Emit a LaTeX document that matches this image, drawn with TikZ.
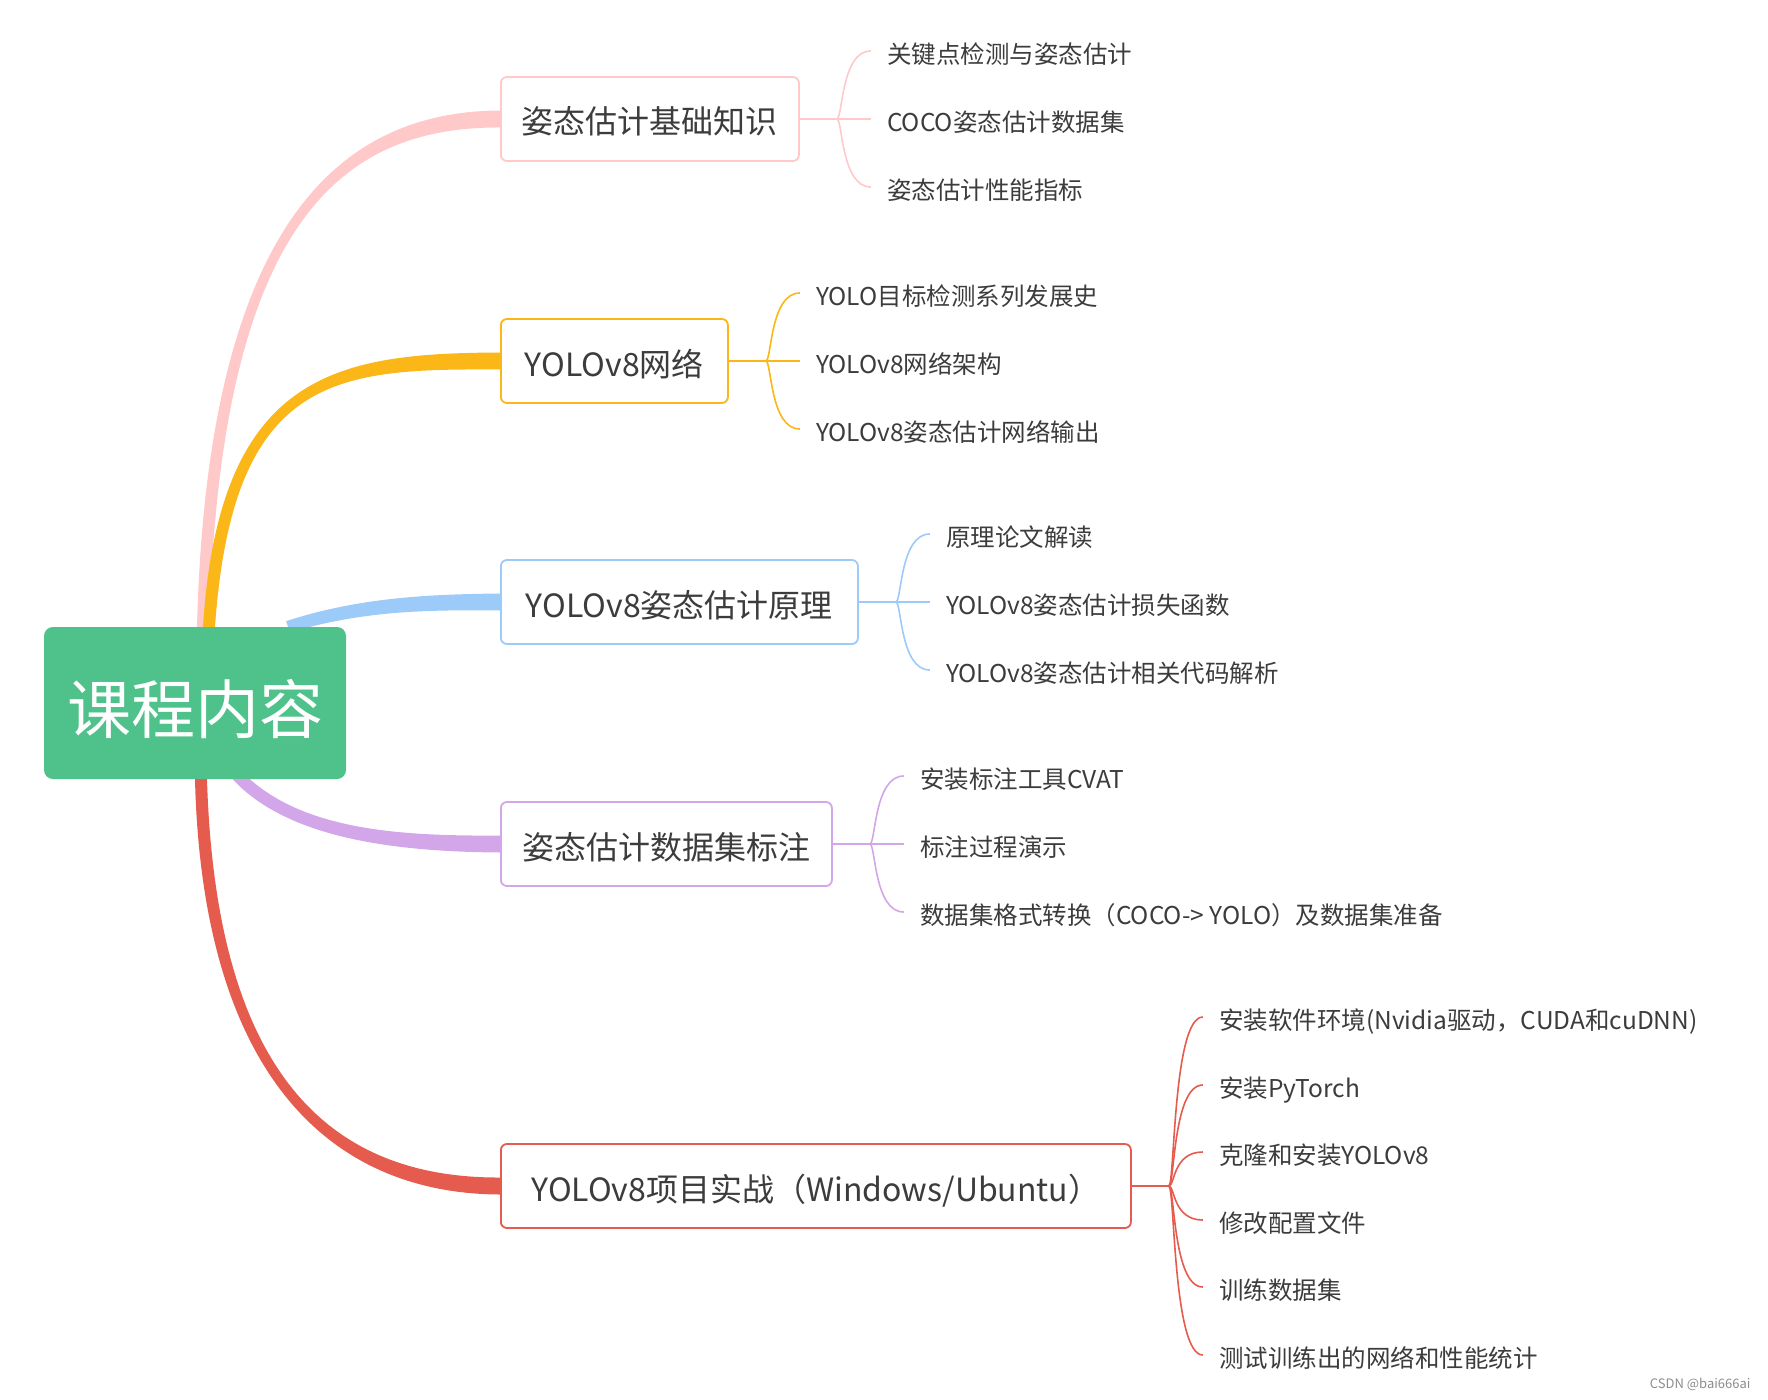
\documentclass[tikz,border=0pt]{standalone}
\usepackage{fontspec}
\setmainfont{Noto Sans CJK SC}
\usetikzlibrary{backgrounds}
\definecolor{pinkc}{HTML}{FFC9C9}
\definecolor{orangec}{HTML}{FBB618}
\definecolor{bluec}{HTML}{9CCBF9}
\definecolor{purplec}{HTML}{D3A6EA}
\definecolor{redc}{HTML}{E55B4D}
\definecolor{rootc}{HTML}{4FC28B}
\definecolor{textc}{HTML}{3C3C3C}
\begin{document}
\begin{tikzpicture}[x=1pt,y=-1pt,
  rootbox/.style={fill=rootc, rounded corners=9pt, minimum width=302pt, minimum height=152pt, text=white, inner sep=0pt, text height=60pt, text depth=0pt, font=\fontsize{64}{70}\selectfont},
  topic/.style={draw, line width=1.8pt, fill=white, rounded corners=6pt, minimum height=84pt, anchor=west, inner xsep=19pt, inner ysep=0pt, text height=30pt, text depth=0pt, font=\fontsize{32}{38}\selectfont, text=textc},
  sub/.style={anchor=west, inner xsep=16pt, inner ysep=2pt, text height=24.5pt, text depth=0pt, font=\fontsize{24.5}{30}\selectfont, text=textc},
  twig/.style={line width=1.6pt},
]
\useasboundingbox (0,0) rectangle (1768,1399);

% root
\node[rootbox] (root) at (195,703) {课程内容};

% topics
\node[topic, draw=pinkc, minimum width=298pt] (b1) at (500,119) {姿态估计基础知识};
\node[topic, draw=orangec, minimum width=227pt] (b2) at (500,361) {YOLOv8网络};
\node[topic, draw=bluec, minimum width=357pt] (b3) at (500,602) {YOLOv8姿态估计原理};
\node[topic, draw=purplec, minimum width=331pt] (b4) at (500,844) {姿态估计数据集标注};
\node[topic, draw=redc, minimum width=630pt] (b5) at (500,1186) {YOLOv8项目实战（Windows/Ubuntu）};

% junction points
\coordinate (j1) at ([xshift=37pt]b1.east);
\coordinate (j2) at ([xshift=37pt]b2.east);
\coordinate (j3) at ([xshift=37pt]b3.east);
\coordinate (j4) at ([xshift=37pt]b4.east);
\coordinate (j5) at ([xshift=37pt]b5.east);

% children (yshift is in page direction: positive = up)
\node[sub] (c11) at ([xshift=34pt,yshift=68pt]j1) {关键点检测与姿态估计};
\node[sub] (c12) at ([xshift=34pt]j1) {COCO姿态估计数据集};
\node[sub] (c13) at ([xshift=34pt,yshift=-68pt]j1) {姿态估计性能指标};

\node[sub] (c21) at ([xshift=34pt,yshift=68pt]j2) {YOLO目标检测系列发展史};
\node[sub] (c22) at ([xshift=34pt]j2) {YOLOv8网络架构};
\node[sub] (c23) at ([xshift=34pt,yshift=-68pt]j2) {YOLOv8姿态估计网络输出};

\node[sub] (c31) at ([xshift=34pt,yshift=68pt]j3) {原理论文解读};
\node[sub] (c32) at ([xshift=34pt]j3) {YOLOv8姿态估计损失函数};
\node[sub] (c33) at ([xshift=34pt,yshift=-68pt]j3) {YOLOv8姿态估计相关代码解析};

\node[sub] (c41) at ([xshift=34pt,yshift=68pt]j4) {安装标注工具CVAT};
\node[sub] (c42) at ([xshift=34pt]j4) {标注过程演示};
\node[sub] (c43) at ([xshift=34pt,yshift=-68pt]j4) {数据集格式转换（COCO-> YOLO）及数据集准备};

\node[sub] (c51) at ([xshift=34pt,yshift=169pt]j5) {安装软件环境(Nvidia驱动，CUDA和cuDNN)};
\node[sub] (c52) at ([xshift=34pt,yshift=101pt]j5) {安装PyTorch};
\node[sub] (c53) at ([xshift=34pt,yshift=34pt]j5) {克隆和安装YOLOv8};
\node[sub] (c54) at ([xshift=34pt,yshift=-34pt]j5) {修改配置文件};
\node[sub] (c55) at ([xshift=34pt,yshift=-101pt]j5) {训练数据集};
\node[sub] (c56) at ([xshift=34pt,yshift=-169pt]j5) {测试训练出的网络和性能统计};

\node[anchor=east, font=\fontsize{13}{15}\selectfont, text=black!45] (wm) at (1754,1384) {CSDN @bai666ai};

% tapered trunks
\begin{scope}[on background layer]
  \fill[pinkc] ([xshift=2pt]root.north) .. controls (207.2,226) and (338,111.3) .. ([yshift=8.5pt]b1.west)
     -- ([yshift=-8.5pt]b1.west) .. controls (338,126.7) and (220.8,226) .. ([xshift=14pt]root.north) -- cycle;
  \fill[orangec] ([xshift=8pt]root.north) .. controls (219.2,371.5) and (338,353.3) .. ([yshift=8.5pt]b2.west)
     -- ([yshift=-8.5pt]b2.west) .. controls (338,368.7) and (232.8,372.5) .. ([xshift=20pt]root.north) -- cycle;
  \fill[bluec] ([xshift=91.2pt,yshift=5.7pt]root.north) .. controls (359,597.5) and (428,594.3) .. ([yshift=8.5pt]b3.west)
     -- ([yshift=-8.5pt]b3.west) .. controls (428,609.7) and (363,610.5) .. ([xshift=94.8pt,yshift=-5.7pt]root.north) -- cycle;
  \fill[purplec] ([xshift=37.6pt]root.south) .. controls (288,838.7) and (395,851.7) .. ([yshift=-8.5pt]b4.west)
     -- ([yshift=8.5pt]b4.west) .. controls (395,836.3) and (298,829.3) .. ([xshift=46.4pt,yshift=8.1pt]root.south) -- cycle;
  \fill[redc] (root.south) .. controls (202.2,1071.2) and (327,1193.7) .. ([yshift=-8.5pt]b5.west)
     -- ([yshift=8.5pt]b5.west) .. controls (327,1178.3) and (215.8,1070.8) .. ([xshift=12pt]root.south) -- cycle;
\end{scope}

% twigs
\draw[twig, pinkc] (b1.east) -- (j1);
\draw[twig, pinkc] (j1) .. controls +(6,0) and +(-30,0) .. (c11.west);
\draw[twig, pinkc] (j1) -- (c12.west);
\draw[twig, pinkc] (j1) .. controls +(6,0) and +(-30,0) .. (c13.west);

\draw[twig, orangec] (b2.east) -- (j2);
\draw[twig, orangec] (j2) .. controls +(6,0) and +(-30,0) .. (c21.west);
\draw[twig, orangec] (j2) -- (c22.west);
\draw[twig, orangec] (j2) .. controls +(6,0) and +(-30,0) .. (c23.west);

\draw[twig, bluec] (b3.east) -- (j3);
\draw[twig, bluec] (j3) .. controls +(6,0) and +(-30,0) .. (c31.west);
\draw[twig, bluec] (j3) -- (c32.west);
\draw[twig, bluec] (j3) .. controls +(6,0) and +(-30,0) .. (c33.west);

\draw[twig, purplec] (b4.east) -- (j4);
\draw[twig, purplec] (j4) .. controls +(6,0) and +(-30,0) .. (c41.west);
\draw[twig, purplec] (j4) -- (c42.west);
\draw[twig, purplec] (j4) .. controls +(6,0) and +(-30,0) .. (c43.west);

\draw[twig, redc] (b5.east) -- (j5);
\draw[twig, redc] (j5) .. controls +(6,0) and +(-30,0) .. (c51.west);
\draw[twig, redc] (j5) .. controls +(6,0) and +(-30,0) .. (c52.west);
\draw[twig, redc] (j5) .. controls +(6,0) and +(-30,0) .. (c53.west);
\draw[twig, redc] (j5) .. controls +(6,0) and +(-30,0) .. (c54.west);
\draw[twig, redc] (j5) .. controls +(6,0) and +(-30,0) .. (c55.west);
\draw[twig, redc] (j5) .. controls +(6,0) and +(-30,0) .. (c56.west);
\end{tikzpicture}
\end{document}
